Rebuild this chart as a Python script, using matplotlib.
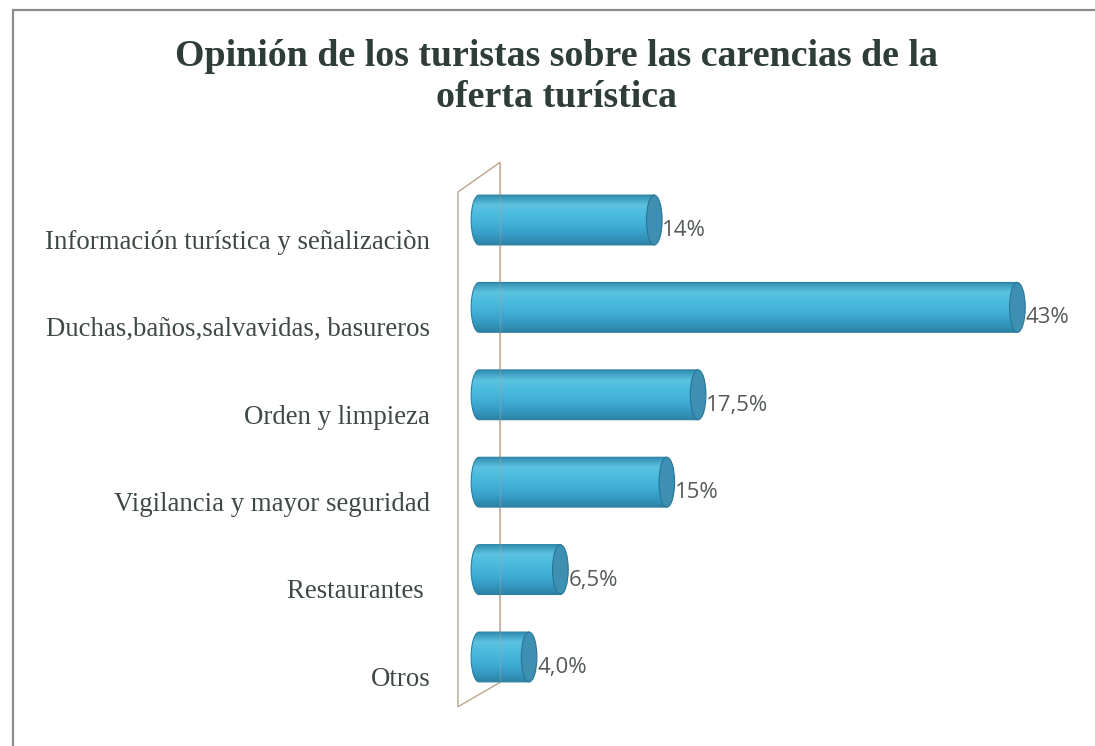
import matplotlib.pyplot as plt
import numpy as np
from matplotlib.patches import Ellipse, Polygon, Rectangle
from matplotlib.colors import LinearSegmentedColormap

# --- data ---
categories = [
    "Información turística y señalizaciòn",
    "Duchas,baños,salvavidas, basureros",
    "Orden y limpieza",
    "Vigilancia y mayor seguridad",
    "Restaurantes ",
    "Otros",
]
values = [14, 43, 17.5, 15, 6.5, 4.0]
value_labels = ["14%", "43%", "17,5%", "15%", "6,5%", "4,0%"]

title = "Opinión de los turistas sobre las carencias de la\noferta turística"

# --- styling ---
bar_h = 0.57      # cylinder thickness (category units)
cap_w = 1.25      # cylinder end width (percent units)
bar_cmap = LinearSegmentedColormap.from_list(
    "cyl", ["#2f8db0", "#5cc2e0", "#4abadd", "#40afd7", "#369cc5", "#2c82a6"])
wall_color = "#b9a58e"
serif = ["Liberation Serif", "DejaVu Serif"]

fig = plt.figure(figsize=(10.95, 7.46), dpi=100)
fig.patch.set_facecolor("white")

# frame around the chart area
fig.add_artist(Rectangle((13 / 1095, -0.1), 1.2, 1 - 10 / 746 + 0.1,
                         transform=fig.transFigure, fill=False,
                         edgecolor="#8c8c8c", lw=1.6))

fig.text(0.508, 0.897, title, ha="center", va="center", family=serif,
         fontsize=27.3, fontweight="bold", color="#2e3d3a", linespacing=1.2)

ax = fig.add_axes([440 / 1095, 26 / 746, 655 / 1095, 570 / 746])
n = len(categories)
ypos = np.arange(n)

# back wall of the 3D plot
wall = Polygon([(-1.68, -0.32), (1.68, -0.66), (1.68, n - 0.71),
                (-1.68, n - 0.43)], closed=True, fill=False,
               edgecolor=wall_color, lw=1.0, zorder=1)
ax.add_patch(wall)

grad = np.linspace(0, 1, 128).reshape(-1, 1)
t = np.linspace(np.pi / 2, 3 * np.pi / 2, 40)
for y0, v, lab in zip(ypos, values, value_labels):
    arc = np.column_stack([cap_w / 2 * np.cos(t), y0 + bar_h / 2 * np.sin(t)])
    pts = np.vstack([arc, [[v, y0 - bar_h / 2], [v, y0 + bar_h / 2]]])
    body = Polygon(pts, closed=True, facecolor="none",
                   edgecolor="#2a7fa3", lw=0.8, zorder=3)
    ax.add_patch(body)
    im = ax.imshow(grad, cmap=bar_cmap, aspect="auto", zorder=2,
                   extent=(-cap_w / 2, v, y0 + bar_h / 2, y0 - bar_h / 2))
    im.set_clip_path(body)
    ax.add_patch(Ellipse((v, y0), cap_w, bar_h, facecolor="#3d90b2",
                         edgecolor="#2a7596", lw=0.8, zorder=4))
    ax.text(v + cap_w / 2 + 0.02, y0 + 0.12, lab, ha="left", va="center",
            family="Open Sans", fontsize=16, color="#555b59", zorder=5)

# front edge of the wall shows faintly through the bars
ax.plot([1.68, 1.68], [-0.66, n - 0.71], color=wall_color, lw=1.0,
        alpha=0.35, zorder=5)

ax.set_xlim(-3.115, 49.2)
ax.set_ylim(5.721, -0.801)
# category names sit a little below the bar axis (3D projection)
ax.set_yticks(ypos + 0.22)
ax.set_yticklabels(categories, family=serif, fontsize=19.3, color="#3e4845")
ax.tick_params(axis="y", length=0, pad=7)
ax.set_xticks([])
for s in ax.spines.values():
    s.set_visible(False)
ax.patch.set_alpha(0)

fig.savefig("out.png", dpi=100)
